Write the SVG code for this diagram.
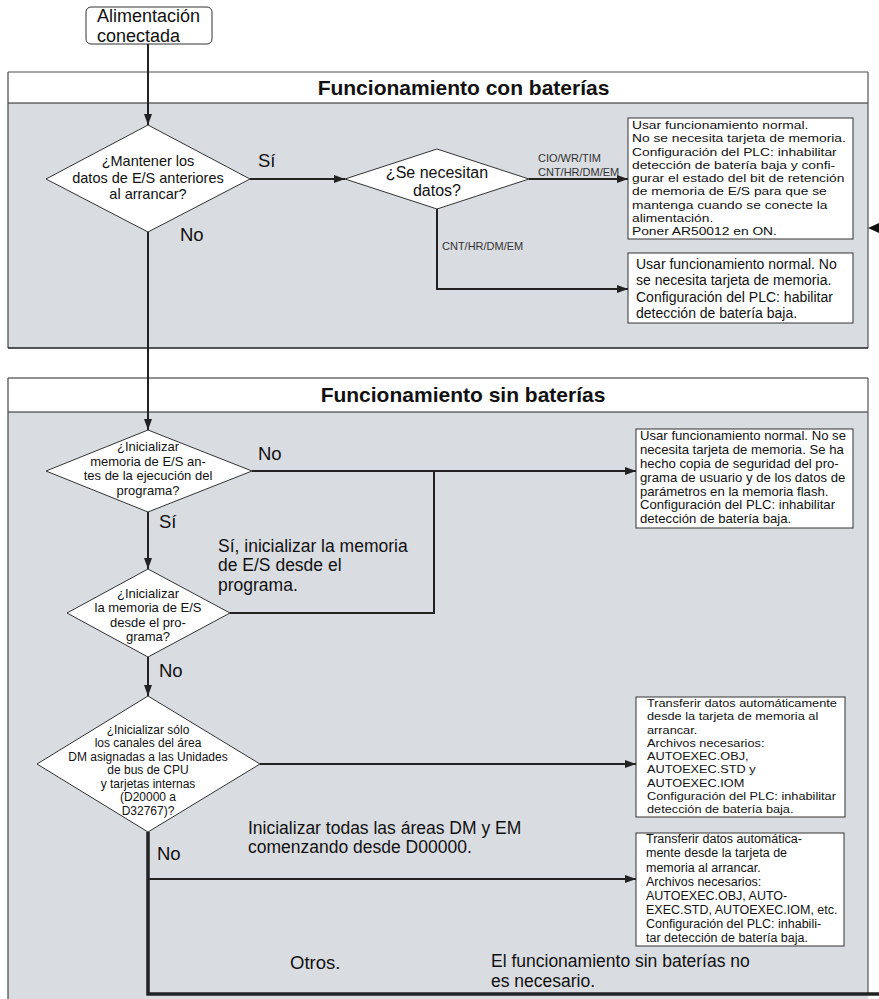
<svg xmlns="http://www.w3.org/2000/svg" width="879" height="999" viewBox="0 0 879 999">
<defs>
<style>
text{font-family:"Liberation Sans",Arial,Helvetica,sans-serif;fill:#111}
.title{font-size:21px;font-weight:bold;text-anchor:middle}
.body{fill:#d9dce1}
.hdr{fill:#fff}
.ln{fill:none;stroke:#222;stroke-width:2}
.thick{fill:none;stroke:#222;stroke-width:3.5}
.dia{fill:#fff;stroke:#333;stroke-width:1}
.box{fill:#fff;stroke:#333;stroke-width:1}
.lbl{font-size:18.5px}
.para{font-size:17.5px}
.small{font-size:11px;fill:#333}
.dt{text-anchor:middle}
</style>
<marker id="ah" markerWidth="11" markerHeight="8" refX="11" refY="4" orient="auto" markerUnits="userSpaceOnUse">
<path d="M0,0 L11,4 L0,8 Z" fill="#222"/>
</marker>
</defs>

<g id="panel1">
<rect class="body" x="8" y="72" width="860" height="276"/>
<rect class="hdr" x="8" y="72" width="860" height="31"/>
<line x1="8" y1="72" x2="868" y2="72" stroke="#888" stroke-width="1.5"/>
<line x1="8" y1="103" x2="868" y2="103" stroke="#222" stroke-width="1.2"/>
<line x1="8" y1="72" x2="8" y2="348" stroke="#444" stroke-width="1.2"/>
<line x1="868" y1="72" x2="868" y2="348" stroke="#555" stroke-width="1.2"/>
<line x1="8" y1="348" x2="868" y2="348" stroke="#222" stroke-width="1.5"/>
<text class="title" x="463.5" y="95">Funcionamiento con baterías</text>
</g>

<g id="panel2">
<rect class="body" x="8" y="378" width="860" height="621"/>
<rect class="hdr" x="8" y="378" width="860" height="34"/>
<line x1="8" y1="378" x2="868" y2="378" stroke="#222" stroke-width="1.2"/>
<line x1="8" y1="412" x2="868" y2="412" stroke="#222" stroke-width="1.2"/>
<line x1="8" y1="378" x2="8" y2="999" stroke="#444" stroke-width="1.2"/>
<line x1="868" y1="378" x2="868" y2="994" stroke="#555" stroke-width="1.2"/>
<text class="title" x="463" y="402">Funcionamiento sin baterías</text>
</g>

<g id="start">
<rect x="86" y="7" width="126" height="37" rx="5" fill="#fff" stroke="#333" stroke-width="1"/>
<text font-size="18"><tspan x="97" y="21.5">Alimentación</tspan><tspan x="97" y="41.7">conectada</tspan></text>
</g>

<g id="connectors">
<line class="ln" x1="148" y1="44" x2="148" y2="125" marker-end="url(#ah)"/>
<line class="ln" x1="250" y1="179" x2="345" y2="179" marker-end="url(#ah)"/>
<line class="ln" x1="529" y1="179" x2="628" y2="179" marker-end="url(#ah)"/>
<polyline class="ln" points="437,209 437,289 628,289" marker-end="url(#ah)"/>
<line class="ln" x1="148" y1="232" x2="148" y2="430" marker-end="url(#ah)"/>
<line class="ln" x1="252" y1="471" x2="636" y2="471" marker-end="url(#ah)"/>
<polyline class="ln" points="230,613 434,613 434,471"/>
<line class="ln" x1="148" y1="512" x2="148" y2="569" marker-end="url(#ah)"/>
<line class="ln" x1="148" y1="657" x2="148" y2="696" marker-end="url(#ah)"/>
<line class="ln" x1="260" y1="764" x2="636" y2="764" marker-end="url(#ah)"/>
<line class="ln" x1="148" y1="879" x2="636" y2="879" marker-end="url(#ah)"/>
<polyline class="thick" points="148,832 148,994 879,994"/>
<path d="M868,228 L879,223 L879,233 Z" fill="#111"/>
<text class="lbl" x="258" y="167">Sí</text>
<text class="lbl" x="180" y="241">No</text>
<text class="small" x="538" y="162">CIO/WR/TIM</text>
<text class="small" x="538" y="176">CNT/HR/DM/EM</text>
<text class="small" x="442" y="250">CNT/HR/DM/EM</text>
<text class="lbl" x="258" y="460">No</text>
<text class="lbl" x="159" y="528">Sí</text>
<text class="para"><tspan x="218" y="551.5">Sí, inicializar la memoria</tspan><tspan x="218" y="571.2">de E/S desde el</tspan><tspan x="218" y="590.9">programa.</tspan></text>
<text class="lbl" x="159" y="677">No</text>
<text class="para"><tspan x="248" y="833.5">Inicializar todas las áreas DM y EM</tspan><tspan x="248" y="853.2">comenzando desde D00000.</tspan></text>
<text class="lbl" x="157" y="860">No</text>
<text class="lbl" x="290" y="969">Otros.</text>
<text class="para"><tspan x="491" y="967">El funcionamiento sin baterías no</tspan><tspan x="491" y="987">es necesario.</tspan></text>
</g>

<g id="d1">
<polygon class="dia" points="148,125 250,179 148,232 46,179"/>
<text class="dt" font-size="14.5"><tspan x="148" y="166">¿Mantener los</tspan><tspan x="148" y="182.5">datos de E/S anteriores</tspan><tspan x="148" y="199">al arrancar?</tspan></text>
</g>

<g id="d2">
<polygon class="dia" points="437,149 529,179 437,209 345,179"/>
<text class="dt" font-size="16"><tspan x="437" y="178">¿Se necesitan</tspan><tspan x="437" y="196">datos?</tspan></text>
</g>

<g id="b1">
<rect class="box" x="628" y="118" width="225" height="121"/>
<g transform="translate(632 0) scale(1.17 1)">
<text font-size="11.8"><tspan x="0" y="129">Usar funcionamiento normal.</tspan><tspan x="0" y="142.3">No se necesita tarjeta de memoria.</tspan><tspan x="0" y="155.6">Configuración del PLC: inhabilitar</tspan><tspan x="0" y="168.9">detección de batería baja y confi-</tspan><tspan x="0" y="182.2">gurar el estado del bit de retención</tspan><tspan x="0" y="195.5">de memoria de E/S para que se</tspan><tspan x="0" y="208.8">mantenga cuando se conecte la</tspan><tspan x="0" y="222.1">alimentación.</tspan><tspan x="0" y="235.4">Poner AR50012 en ON.</tspan></text>
</g>
</g>

<g id="b2">
<rect class="box" x="628" y="253" width="225" height="70"/>
<text font-size="14"><tspan x="636" y="269">Usar funcionamiento normal. No</tspan><tspan x="636" y="285">se necesita tarjeta de memoria.</tspan><tspan x="636" y="302">Configuración del PLC: habilitar</tspan><tspan x="636" y="318">detección de batería baja.</tspan></text>
</g>

<g id="d3">
<polygon class="dia" points="148,430 252,471 148,512 46,471"/>
<text class="dt" font-size="13"><tspan x="148" y="451">¿Inicializar</tspan><tspan x="148" y="465.6">memoria de E/S an-</tspan><tspan x="148" y="480.2">tes de la ejecución del</tspan><tspan x="148" y="494.8">programa?</tspan></text>
</g>

<g id="b3">
<rect class="box" x="636" y="429" width="217" height="99"/>
<g transform="translate(640 0) scale(1.07 1)">
<text font-size="12.3"><tspan x="0" y="440.5">Usar funcionamiento normal. No se</tspan><tspan x="0" y="454.3">necesita tarjeta de memoria. Se ha</tspan><tspan x="0" y="468.1">hecho copia de seguridad del pro-</tspan><tspan x="0" y="481.9">grama de usuario y de los datos de</tspan><tspan x="0" y="495.7">parámetros en la memoria flash.</tspan><tspan x="0" y="509.5">Configuración del PLC: inhabilitar</tspan><tspan x="0" y="523.3">detección de batería baja.</tspan></text>
</g>
</g>

<g id="d4">
<polygon class="dia" points="148,569 230,613 148,657 67,613"/>
<text class="dt" font-size="13"><tspan x="148" y="597.5">¿Inicializar</tspan><tspan x="148" y="612.1">la memoria de E/S</tspan><tspan x="148" y="626.7">desde el pro-</tspan><tspan x="148" y="641.3">grama?</tspan></text>
</g>

<g id="d5">
<polygon class="dia" points="148,696 260,764 148,832 37,764"/>
<text class="dt" font-size="12"><tspan x="148" y="733.5">¿Inicializar sólo</tspan><tspan x="148" y="747">los canales del área</tspan><tspan x="148" y="760.5">DM asignadas a las Unidades</tspan><tspan x="148" y="774">de bus de CPU</tspan><tspan x="148" y="787.5">y tarjetas internas</tspan><tspan x="148" y="801">(D20000 a</tspan><tspan x="148" y="814.5">D32767)?</tspan></text>
</g>

<g id="b4">
<rect class="box" x="636" y="697" width="209" height="120"/>
<g transform="translate(647 0) scale(1.08 1)">
<text font-size="11.8"><tspan x="0" y="707">Transferir datos automáticamente</tspan><tspan x="0" y="720.3">desde la tarjeta de memoria al</tspan><tspan x="0" y="733.6">arrancar.</tspan><tspan x="0" y="746.9">Archivos necesarios:</tspan><tspan x="0" y="760.2">AUTOEXEC.OBJ,</tspan><tspan x="0" y="773.5">AUTOEXEC.STD y</tspan><tspan x="0" y="786.8">AUTOEXEC.IOM</tspan><tspan x="0" y="800.1">Configuración del PLC: inhabilitar</tspan><tspan x="0" y="813.4">detección de batería baja.</tspan></text>
</g>
</g>

<g id="b5">
<rect class="box" x="636" y="833" width="208" height="113"/>
<text font-size="12.5"><tspan x="646" y="843.3">Transferir datos automática-</tspan><tspan x="646" y="857.4">mente desde la tarjeta de</tspan><tspan x="646" y="871.5">memoria al arrancar.</tspan><tspan x="646" y="885.6">Archivos necesarios:</tspan><tspan x="646" y="899.7">AUTOEXEC.OBJ, AUTO-</tspan><tspan x="646" y="913.8">EXEC.STD, AUTOEXEC.IOM, etc.</tspan><tspan x="646" y="927.9">Configuración del PLC: inhabili-</tspan><tspan x="646" y="942">tar detección de batería baja.</tspan></text>
</g>
</svg>
